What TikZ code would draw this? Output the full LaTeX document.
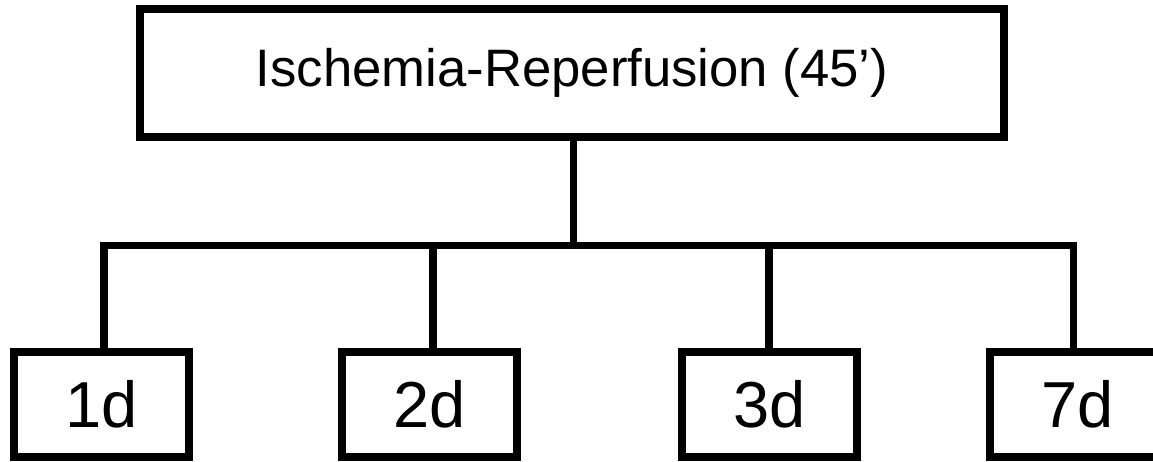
\documentclass[tikz,border=0pt]{standalone}
\usepackage{fontspec}
\setmainfont{Liberation Sans}
\tikzset{
  box/.style={draw=black, line width=7.5pt, fill=white, inner sep=0pt, outer sep=0pt},
  topbox/.style={box, minimum width=864pt, minimum height=128pt, font=\fontsize{52.7}{60}\selectfont},
  daybox/.style={box, minimum width=175pt, minimum height=105pt, font=\fontsize{65}{72}\selectfont},
  conn/.style={draw=black, line width=7.5pt, line join=miter}
}
\begin{document}
\begin{tikzpicture}[x=1pt, y=-1pt]
\useasboundingbox (0,0) rectangle (1153,462);
\fill[white] (0,0) rectangle (1153,462);
\node[topbox] (top) at (572,73) {Ischemia-Reperfusion (45’)};
\node[daybox] (d1) at (101.5,404.5) {1d};
\node[daybox] (d2) at (429.5,404.5) {2d};
\node[daybox] (d3) at (769.5,404.5) {3d};
\node[daybox] (d7) at (1077.5,404.5) {7d};
\coordinate (b1) at (104,245.5);
\coordinate (b2) at (433,245.5);
\coordinate (b3) at (769,245.5);
\coordinate (b4) at (1073.5,245.5);
\coordinate (bm) at (573.5,245.5);
\draw[conn] (b1 |- d1.north) -- (b1) -- (b4) -- (b4 |- d7.north);
\draw[conn] (b2) -- (b2 |- d2.north);
\draw[conn] (b3) -- (b3 |- d3.north);
\draw[conn] (bm |- top.south) -- (bm);
\end{tikzpicture}
\end{document}
